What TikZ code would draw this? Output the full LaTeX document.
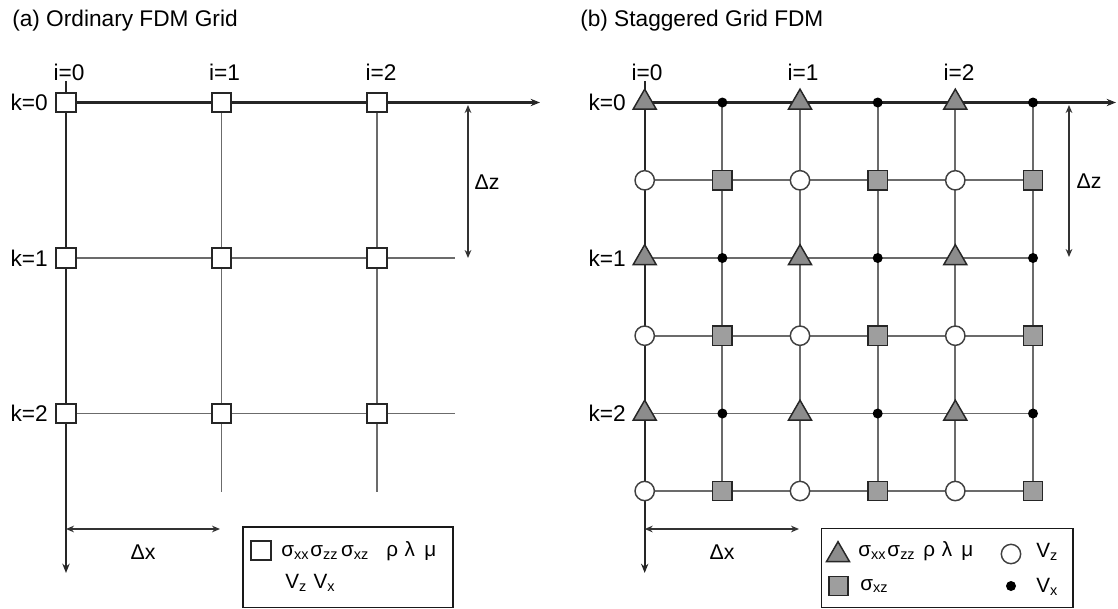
\documentclass[tikz,border=0pt]{standalone}
\usepackage{fontspec}
\setmainfont{Liberation Sans}
\usetikzlibrary{arrows.meta,shapes.geometric}
\tikzset{
  axisline/.style={draw=black!85, line width=1.6pt},
  gridline/.style={draw=black!58, line width=1.4pt},
  endtip/.style={-{Stealth[length=7pt,width=5.5pt]}},
  dimline/.style={{Stealth[length=6pt,width=5pt]}-{Stealth[length=6pt,width=5pt]}, draw=black!80, line width=1.2pt},
  wsq/.style={draw=black!85, fill=white, line width=1.4pt, minimum size=14.5pt, inner sep=0pt},
  tri/.style={regular polygon, regular polygon sides=3, draw=black!85, fill=black!45, line width=1.1pt, minimum size=20pt, inner sep=0pt},
  circ/.style={circle, draw=black!75, fill=white, line width=1.1pt, minimum size=14.5pt, inner sep=0pt},
  gsq/.style={draw=black!85, fill=black!38, line width=1.1pt, minimum size=14.5pt, inner sep=0pt},
  bdot/.style={circle, fill=black, minimum size=7.5pt, inner sep=0pt},
  lbl/.style={font=\fontsize{17}{19}\selectfont, inner sep=0pt},
  dlbl/.style={font=\fontsize{16}{18}\selectfont, inner sep=0pt},
  leg/.style={font=\fontsize{15.5}{18}\selectfont, inner sep=0pt, anchor=west},
  legbox/.style={draw=black!90, line width=1.4pt, anchor=north west, inner sep=0pt}
}
\begin{document}
\begin{tikzpicture}[x=0.75pt,y=-0.75pt]
\useasboundingbox (0,0) rectangle (1118,608);

% ================= panel (a) =================
\node[lbl, anchor=west] (titleA) at (12,21) {(a) Ordinary FDM Grid};
\foreach \c/\x in {0/66,1/221.5,2/377}
  \foreach \r/\y in {0/102.5,1/258,2/413.5}
    \coordinate (a\c\r) at (\x,\y);
\coordinate (aTop) at (66,81);
\coordinate (aBot) at (66,573);
\coordinate (aEnd) at (540,102.5);
\coordinate (aR1) at (455,258);
\coordinate (aR2) at (455,413.5);
\coordinate (aC1) at (221.5,492);
\coordinate (aC2) at (377,492);

\draw[axisline, endtip] (a00) -- (aEnd);
\draw[gridline] (a01) -- (aR1);
\draw[gridline] (a02) -- (aR2);
\draw[axisline, endtip] (aTop) -- (aBot);
\draw[gridline] (a10) -- (aC1);
\draw[gridline] (a20) -- (aC2);

\foreach \c in {0,1,2}
  \foreach \r in {0,1,2}
    \node[wsq] (na\c\r) at (a\c\r) {};

\node[lbl] (ai0) at (69,72) {i=0};
\node[lbl] (ai1) at (224.5,72) {i=1};
\node[lbl] (ai2) at (381,72) {i=2};
\node[lbl, anchor=east] (ak0) at (48,102.5) {k=0};
\node[lbl, anchor=east] (ak1) at (48,258) {k=1};
\node[lbl, anchor=east] (ak2) at (48,413.5) {k=2};

\coordinate (adzT) at (468,105);
\coordinate (adzB) at (468,258);
\draw[dimline] (adzT) -- (adzB);
\node[dlbl] (adz) at (487,182) {Δz};
\coordinate (adxL) at (66,529);
\coordinate (adxR) at (220,529);
\draw[dimline] (adxL) -- (adxR);
\node[dlbl] (adx) at (143,552) {Δx};

\node[legbox, minimum width=157.5pt, minimum height=60.4pt] (legA) at (241.7,526) {};
\node[wsq] (legAsq) at (261,550.5) {};
\node[leg] (legAt1) at (281,551) {σ\textsubscript{xx}\kern1ptσ\textsubscript{zz}\kern2ptσ\textsubscript{xz}\hspace{13pt}ρ\hspace{5pt}λ\hspace{7pt}μ};
\node[leg] (legAt2) at (285,583) {V\textsubscript{z}\hspace{5pt}V\textsubscript{x}};

% ================= panel (b) =================
\node[lbl, anchor=west] (titleB) at (580,21) {(b) Staggered Grid FDM};
\foreach \c/\x in {0/644.7,1/722.4,2/800,3/877.7,4/955.3,5/1033}
  \foreach \r/\y in {0/102.5,1/180.3,2/258,3/335.7,4/413.5,5/491}
    \coordinate (b\c\r) at (\x,\y);
\coordinate (bTop) at (644.7,81);
\coordinate (bBot) at (644.7,573);
\coordinate (bEnd) at (1116,102.5);

\draw[axisline, endtip] (b00) -- (bEnd);
\foreach \r in {1,...,5}
  \draw[gridline] (b0\r) -- (b5\r);
\foreach \c in {1,...,5}
  \draw[gridline] (b\c0) -- (b\c5);
\draw[axisline, endtip] (bTop) -- (bBot);

\foreach \c in {0,2,4}
  \foreach \r in {0,2,4}
    \node[tri] (nt\c\r) at (b\c\r) {};
\foreach \c in {1,3,5}
  \foreach \r in {0,2,4}
    \node[bdot] (nd\c\r) at (b\c\r) {};
\foreach \c in {0,2,4}
  \foreach \r in {1,3,5}
    \node[circ] (nc\c\r) at (b\c\r) {};
\foreach \c in {1,3,5}
  \foreach \r in {1,3,5}
    \node[gsq] (ns\c\r) at (b\c\r) {};

\node[lbl] (bi0) at (647,72) {i=0};
\node[lbl] (bi1) at (803,72) {i=1};
\node[lbl] (bi2) at (959,72) {i=2};
\node[lbl, anchor=east] (bk0) at (626,102.5) {k=0};
\node[lbl, anchor=east] (bk1) at (626,258) {k=1};
\node[lbl, anchor=east] (bk2) at (626,413.5) {k=2};

\coordinate (bdzT) at (1069,105);
\coordinate (bdzB) at (1069,257);
\draw[dimline] (bdzT) -- (bdzB);
\node[dlbl] (bdz) at (1089,181) {Δz};
\coordinate (bdxL) at (644.7,529);
\coordinate (bdxR) at (799,529);
\draw[dimline] (bdxL) -- (bdxR);
\node[dlbl] (bdx) at (722,552) {Δx};

\node[legbox, minimum width=188.4pt, minimum height=59.3pt] (legB) at (820.5,527.5) {};
\node[tri] (legBtri) at (838,555) {};
\node[leg] (legBt1) at (858,551) {σ\textsubscript{xx}\kern1ptσ\textsubscript{zz}\hspace{6pt}ρ\hspace{5pt}λ\hspace{7pt}μ};
\node[circ] (legBc) at (1011,554) {};
\node[leg] (legBt2) at (1036,552) {V\textsubscript{z}};
\node[gsq] (legBsq) at (838.5,586) {};
\node[leg] (legBt3) at (860,586) {σ\textsubscript{xz}};
\node[bdot] (legBd) at (1011,586) {};
\node[leg] (legBt4) at (1036,587) {V\textsubscript{x}};
\end{tikzpicture}
\end{document}
